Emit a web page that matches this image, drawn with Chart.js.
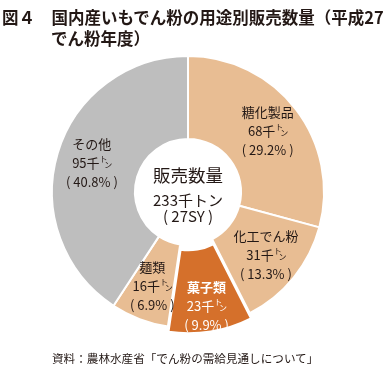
<!DOCTYPE html>
<html lang="ja">
<head>
<meta charset="utf-8">
<script src="https://cdn.jsdelivr.net/npm/chart.js@4/dist/chart.umd.min.js"></script>
<style>
  body { margin: 0; background: #fff; }
  #wrap { position: relative; width: 391px; height: 367px; }
  #wrap canvas { position: absolute; left: 0; top: 0; }
  .txt { position: absolute; white-space: nowrap; color: #231815;
         font-family: "Noto Sans CJK JP", sans-serif; }
  .title { font-size: 16.5px; font-weight: bold; line-height: 20px; }
</style>
</head>
<body>
<div id="wrap">
  <canvas id="myChart" width="391" height="367"></canvas>
  <div class="txt title" style="left:2px; top:7px;">図４　国内産いもでん粉の用途別販売数量（平成27</div>
  <div class="txt title" style="left:51px; top:28px;">でん粉年度）</div>
  <div class="txt" style="left:52px; top:349px; font-size:11.6px; line-height:18px;">資料：農林水産省「でん粉の需給見通しについて」</div>
</div>
<script>
// slices in drawing order, clockwise from 12 o'clock
var categories = ['糖化製品', '化工でん粉', '菓子類', '麺類', 'その他'];
var salesKt = [68, 31, 23, 16, 95];          // 千トン
var sharePct = ['29.2', '13.3', '9.9', '6.9', '40.8'];
var totalKt = 233;
var sliceColors = ['#E8BD93', '#E8BD93', '#D5702B', '#E8BD93', '#BEBEBE'];
var sliceOffset = [0, 0, 15, 0, 0];

var FONT = '"Noto Sans CJK JP", sans-serif';

// draws "68千" followed by a small raised ト and a small lowered ン, centred on x
function drawTon(ctx, num, x, y, size) {
  ctx.font = size + 'px ' + FONT;
  var main = num + '千';
  var w1 = ctx.measureText(main).width;
  var small = Math.round(size * 0.6);
  var total = w1 + small * 1.5;
  var left = x - total / 2;
  ctx.textAlign = 'left';
  ctx.fillText(main, left, y);
  ctx.font = small + 'px ' + FONT;
  ctx.fillText('ト', left + w1, y - size * 0.3);
  ctx.fillText('ン', left + w1 + small * 0.6, y + size * 0.15);
  ctx.textAlign = 'center';
}

var labelPlugin = {
  id: 'sliceLabels',
  afterDatasetsDraw: function(chart) {
    var ctx = chart.ctx;
    var meta = chart.getDatasetMeta(0);
    ctx.save();
    ctx.textAlign = 'center';
    ctx.textBaseline = 'middle';
    var cx = 0, cy = 0;
    meta.data.forEach(function(arc, i) {
      var p = arc.getProps(['x', 'y', 'startAngle', 'endAngle', 'innerRadius', 'outerRadius'], true);
      cx = p.x; cy = p.y;
      var mid = (p.startAngle + p.endAngle) / 2;
      var r = p.innerRadius + (p.outerRadius - p.innerRadius) * 0.57 + (arc.options.offset || 0);
      var lx = p.x + Math.cos(mid) * r;
      var ly = p.y + Math.sin(mid) * r;
      var dark = i === 2;
      ctx.fillStyle = dark ? '#ffffff' : '#231815';
      ctx.font = (dark ? 'bold ' : '') + '13px ' + FONT;
      ctx.fillText(categories[i], lx, ly - 19);
      drawTon(ctx, salesKt[i], lx, ly, 13);
      ctx.font = '13px ' + FONT;
      ctx.fillText('( ' + sharePct[i] + '% )', lx, ly + 19);
    });
    // centre text
    ctx.fillStyle = '#231815';
    ctx.font = '17.5px ' + FONT;
    ctx.fillText('販売数量', cx, cy - 17);
    ctx.font = '15px ' + FONT;
    ctx.fillText(totalKt + '千トン', cx, cy + 8);
    ctx.fillText('( 27SY )', cx, cy + 24);
    ctx.restore();
  }
};

var ctx = document.getElementById('myChart').getContext('2d');
var chart = new Chart(ctx, {
  type: 'doughnut',
  data: {
    labels: categories,
    datasets: [
      {
        data: salesKt,
        backgroundColor: sliceColors,
        borderColor: '#ffffff',
        borderWidth: 2,
        offset: sliceOffset,
        hoverOffset: 0,
        radius: 136,
      },
    ],
  },
  options: {
    responsive: false,
    animation: false,
    events: [],
    cutout: '39%',
    layout: { padding: { left: 0, right: 15, top: 50, bottom: 33 } },
    plugins: {
      legend: { display: false },
      tooltip: { enabled: false },
    },
  },
  plugins: [labelPlugin],
});
</script>
</body>
</html>
